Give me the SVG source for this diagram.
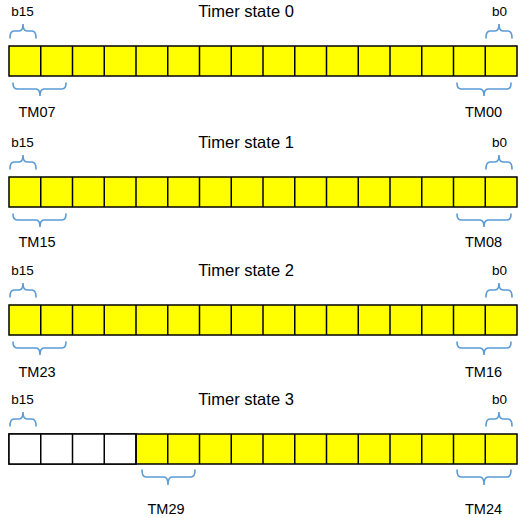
<svg xmlns="http://www.w3.org/2000/svg" width="526" height="518" viewBox="0 0 526 518">
<style>
.t{font-family:"Liberation Sans",Arial,sans-serif;fill:#000}
.title{font-size:16.5px;text-anchor:middle}
.b{font-size:13.5px;text-anchor:middle}
.tm{font-size:14.5px;text-anchor:middle}
.y{fill:#FFFF00;stroke:#000;stroke-width:1.5}
.w{fill:#FFFFFF;stroke:#000;stroke-width:1.5}
.d{stroke:#000;stroke-width:1.5}
.br{fill:none;stroke:#5B9BD5;stroke-width:1.6;stroke-linecap:round}
</style>
<defs>
<g id="cells">
<line class="d" x1="40.75" y1="0" x2="40.75" y2="30"/>
<line class="d" x1="72.5" y1="0" x2="72.5" y2="30"/>
<line class="d" x1="104.25" y1="0" x2="104.25" y2="30"/>
<line class="d" x1="136" y1="0" x2="136" y2="30"/>
<line class="d" x1="167.75" y1="0" x2="167.75" y2="30"/>
<line class="d" x1="199.5" y1="0" x2="199.5" y2="30"/>
<line class="d" x1="231.25" y1="0" x2="231.25" y2="30"/>
<line class="d" x1="263" y1="0" x2="263" y2="30"/>
<line class="d" x1="294.75" y1="0" x2="294.75" y2="30"/>
<line class="d" x1="326.5" y1="0" x2="326.5" y2="30"/>
<line class="d" x1="358.25" y1="0" x2="358.25" y2="30"/>
<line class="d" x1="390" y1="0" x2="390" y2="30"/>
<line class="d" x1="421.75" y1="0" x2="421.75" y2="30"/>
<line class="d" x1="453.5" y1="0" x2="453.5" y2="30"/>
<line class="d" x1="485.25" y1="0" x2="485.25" y2="30"/>
</g>
</defs>

<g id="state0">
<text class="t title" x="246" y="17">Timer state 0</text>
<text class="t b" x="22.5" y="16">b15</text>
<text class="t b" x="499.5" y="16">b0</text>
<rect class="y" x="9" y="46" width="508" height="30"/>
<use href="#cells" x="0" y="46"/>
<text class="t tm" x="37" y="117">TM07</text>
<text class="t tm" x="483.5" y="117">TM00</text>
</g>

<g id="state1">
<text class="t title" x="246" y="148">Timer state 1</text>
<text class="t b" x="22.5" y="147">b15</text>
<text class="t b" x="499.5" y="147">b0</text>
<rect class="y" x="9" y="177" width="508" height="30"/>
<use href="#cells" x="0" y="177"/>
<text class="t tm" x="37" y="247">TM15</text>
<text class="t tm" x="483.5" y="247">TM08</text>
</g>

<g id="state2">
<text class="t title" x="246" y="276">Timer state 2</text>
<text class="t b" x="22.5" y="275">b15</text>
<text class="t b" x="499.5" y="275">b0</text>
<rect class="y" x="9" y="305" width="508" height="30"/>
<use href="#cells" x="0" y="305"/>
<text class="t tm" x="37" y="377">TM23</text>
<text class="t tm" x="483.5" y="377">TM16</text>
</g>

<g id="state3">
<text class="t title" x="246" y="405">Timer state 3</text>
<text class="t b" x="22.5" y="404">b15</text>
<text class="t b" x="499.5" y="404">b0</text>
<rect class="y" x="9" y="434" width="508" height="30"/>
<rect class="w" x="9" y="434" width="127" height="30"/>
<use href="#cells" x="0" y="434"/>
<text class="t tm" x="166" y="514">TM29</text>
<text class="t tm" x="483.5" y="514">TM24</text>
</g>

<g id="braces">
<path class="br" d="M10,38 Q10,31 14,31 L19,31 Q23,31 23,24 Q23,31 27,31 L32,31 Q36,31 36,38"/>
<path class="br" d="M486,38 Q486,31 490,31 L495,31 Q499,31 499,24 Q499,31 503,31 L508,31 Q512,31 512,38"/>
<path class="br" d="M10,169 Q10,162 14,162 L19,162 Q23,162 23,155 Q23,162 27,162 L32,162 Q36,162 36,169"/>
<path class="br" d="M486,169 Q486,162 490,162 L495,162 Q499,162 499,155 Q499,162 503,162 L508,162 Q512,162 512,169"/>
<path class="br" d="M10,297 Q10,290 14,290 L19,290 Q23,290 23,283 Q23,290 27,290 L32,290 Q36,290 36,297"/>
<path class="br" d="M486,297 Q486,290 490,290 L495,290 Q499,290 499,283 Q499,290 503,290 L508,290 Q512,290 512,297"/>
<path class="br" d="M10,426 Q10,419 14,419 L19,419 Q23,419 23,412 Q23,419 27,419 L32,419 Q36,419 36,426"/>
<path class="br" d="M486,426 Q486,419 490,419 L495,419 Q499,419 499,412 Q499,419 503,419 L508,419 Q512,419 512,426"/>
<path class="br" d="M13,83 Q13,89 17,89 L36,89 Q40,89 40,96 Q40,89 44,89 L62,89 Q66,89 66,83"/>
<path class="br" d="M457,83 Q457,89 461,89 L480,89 Q484,89 484,96 Q484,89 488,89 L507,89 Q511,89 511,83"/>
<path class="br" d="M13,214 Q13,220 17,220 L36,220 Q40,220 40,227 Q40,220 44,220 L62,220 Q66,220 66,214"/>
<path class="br" d="M457,214 Q457,220 461,220 L480,220 Q484,220 484,227 Q484,220 488,220 L507,220 Q511,220 511,214"/>
<path class="br" d="M13,342 Q13,348 17,348 L36,348 Q40,348 40,355 Q40,348 44,348 L62,348 Q66,348 66,342"/>
<path class="br" d="M457,342 Q457,348 461,348 L480,348 Q484,348 484,355 Q484,348 488,348 L507,348 Q511,348 511,342"/>
<path class="br" d="M142,470 Q142,477 146,477 L164,477 Q168,477 168,485 Q168,477 172,477 L191,477 Q195,477 195,470"/>
<path class="br" d="M457,470 Q457,477 461,477 L480,477 Q484,477 484,485 Q484,477 488,477 L507,477 Q511,477 511,470"/>
</g>
</svg>
